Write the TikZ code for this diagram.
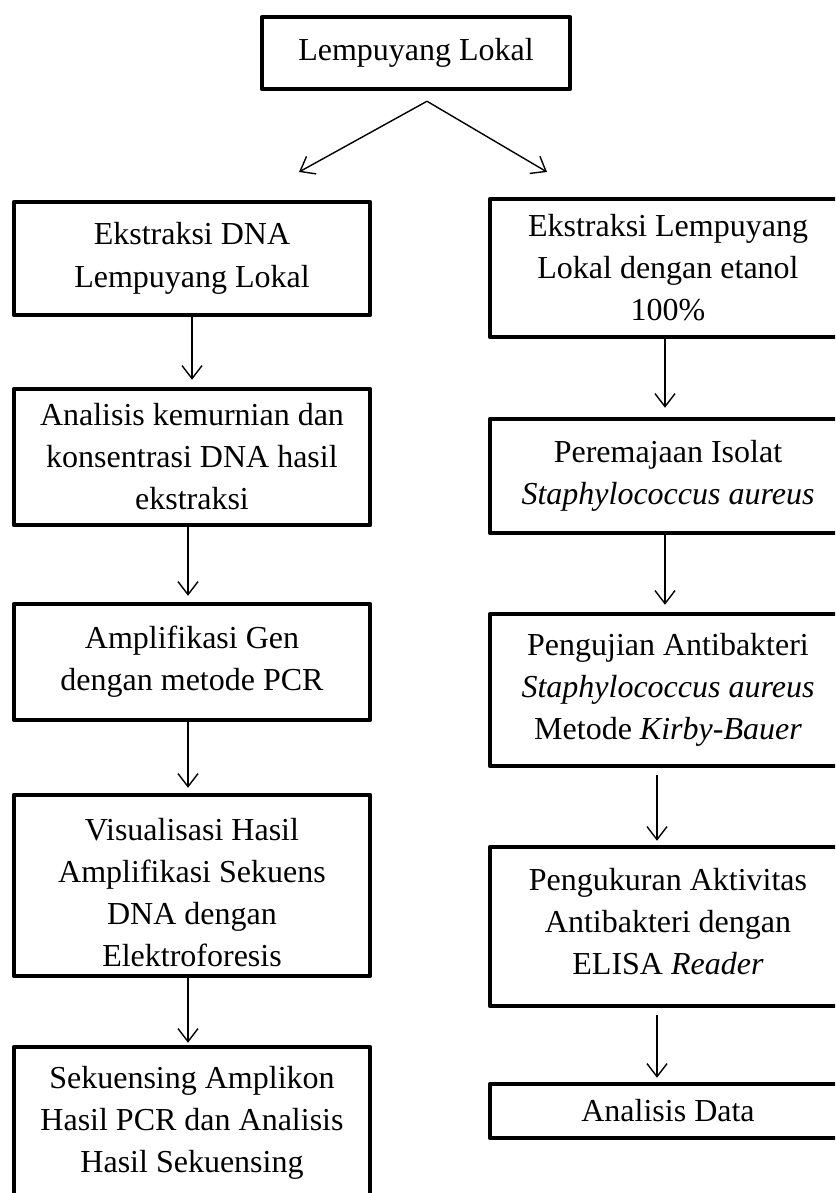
\documentclass[tikz,border=0pt]{standalone}
\usepackage{fontspec}
\setmainfont{Liberation Serif}
\usetikzlibrary{arrows.meta}
\begin{document}
\begin{tikzpicture}[x=1pt,y=-1pt,
  box/.style={draw, line width=4.5pt, line join=round, minimum width=356pt, align=center, inner sep=0pt, font=\fontsize{32}{42}\selectfont},
  lbl/.style={align=center, inner sep=0pt, font=\fontsize{32}{42}\selectfont},
  arr/.style={-{Straight Barb[length=13pt,width=20pt]}, line width=1.4pt}]
\useasboundingbox (0,0) rectangle (835,1193);
\clip (0,0) rectangle (835,1193);
% top
\node[box, minimum width=308pt, minimum height=72pt] (top) at (416,53) {Lempuyang Lokal};
% left column
\node[box, minimum height=113pt, font=\fontsize{32}{43}\selectfont] (L1) at (192,258.5) {Ekstraksi DNA\\Lempuyang Lokal};
\node[box, minimum height=136pt] (L2) at (192,457) {Analisis kemurnian dan\\konsentrasi DNA hasil\\ekstraksi};
\node[box, minimum height=116pt] (L3) at (192,662) {Amplifikasi Gen\\dengan metode PCR};
\node[box, minimum height=181pt] (L4) at (192,885.5) {};
\begin{scope}
\clip (L4.north west) rectangle ([yshift=12pt]L4.south east);
\node[lbl] (L4t) at (192,893) {Visualisasi Hasil\\Amplifikasi Sekuens\\DNA dengan\\Elektroforesis};
\end{scope}
\node[box, minimum height=300pt] (L5) at (192,1197) {};
\node[lbl] (L5t) at (192,1123) {Sekuensing Amplikon\\Hasil PCR dan Analisis\\Hasil Sekuensing};
% right column
\node[box, minimum height=138pt] (R1) at (668,268) {Ekstraksi Lempuyang\\Lokal dengan etanol\\100\%};
\node[box, minimum height=114pt] (R2) at (668,476) {Peremajaan Isolat\\\textit{Staphylococcus aureus}};
\node[box, minimum height=152pt] (R3) at (668,690) {Pengujian Antibakteri\\\textit{Staphylococcus aureus}\\Metode \textit{Kirby-Bauer}};
\node[box, minimum height=159pt] (R4) at (668,926.5) {};
\node[lbl] (R4t) at (668,921.5) {Pengukuran Aktivitas\\Antibakteri dengan\\ELISA \textit{Reader}};
\node[box, minimum height=54pt] (R5) at (668,1111) {Analisis Data};
% top split arrows
\coordinate (apex) at ([xshift=11pt,yshift=-10pt]top.south);
\coordinate (tipL) at (299,172);
\coordinate (tipR) at (547,172);
\draw[arr] (apex) -- (tipL);
\draw[arr] (apex) -- (tipR);
% left arrows
\draw[arr, shorten >=7pt] (L1.south) -- (L2.north);
\draw[arr, shorten >=6pt] ([xshift=-4pt]L2.south) -- ([xshift=-4pt]L3.north);
\draw[arr, shorten >=5pt] ([xshift=-4pt]L3.south) -- ([xshift=-4pt]L4.north);
\draw[arr, shorten >=2pt] ([xshift=-4pt]L4.south) -- ([xshift=-4pt]L5.north);
% right arrows
\draw[arr, shorten >=9pt] ([xshift=-3pt]R1.south) -- ([xshift=-3pt]R2.north);
\draw[arr, shorten >=7pt] ([xshift=-3pt]R2.south) -- ([xshift=-3pt]R3.north);
\draw[arr, shorten <=7pt, shorten >=4pt] ([xshift=-11pt]R3.south) -- ([xshift=-11pt]R4.north);
\draw[arr, shorten <=7pt, shorten >=4pt] ([xshift=-11pt]R4.south) -- ([xshift=-11pt]R5.north);
\end{tikzpicture}
\end{document}
